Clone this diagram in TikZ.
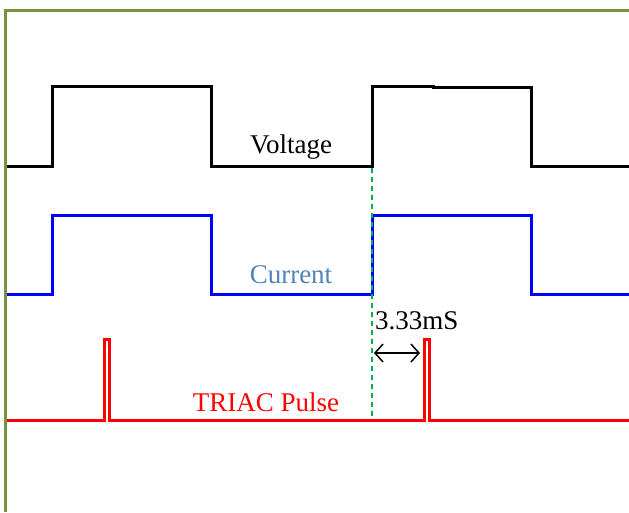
\documentclass[tikz,border=0pt]{standalone}
\usepackage{fontspec}
\setmainfont{Liberation Serif}
\usetikzlibrary{arrows.meta}
\definecolor{frameg}{HTML}{77933C}
\definecolor{dashg}{HTML}{00B050}
\definecolor{curlbl}{HTML}{4F81BD}
\tikzset{
  wave/.style={line width=3pt, line join=miter},
  lbl/.style={font=\fontsize{27}{31}\selectfont, inner sep=0pt},
}
\begin{document}
\begin{tikzpicture}[x=1pt,y=-1pt]
\useasboundingbox (0,0) rectangle (629,512);
% frame
\draw[frameg, line width=3pt] (5,512) -- (5,10) -- (629,10);
% voltage
\draw[wave, black] (7,166.5) -- (52,166.5) -- (52,86.5) -- (211,86.5) -- (211,166.5) -- (372,166.5) -- (372,86.5) -- (433,86.5) -- (433,87.5) -- (531.5,87.5) -- (531.5,166.5) -- (629,166.5);
% current
\draw[wave, blue] (7,294) -- (52,294) -- (52,215) -- (211,215) -- (211,294) -- (372,294) -- (372,215) -- (531.5,215) -- (531.5,294) -- (629,294);
% triac pulse
\draw[wave, red] (7,420) -- (104.5,420) -- (104.5,339.5) -- (109.5,339.5) -- (109.5,420) -- (424,420) -- (424,339.5) -- (429,339.5) -- (429,420) -- (629,420);
% dashed marker
\coordinate (dtop) at (372,168);
\coordinate (dbot) at (372,418);
\draw[dashg, line width=1.3pt, dash pattern=on 5pt off 4pt] (dtop) -- (dbot);
% labels
\node[lbl, text=black] (volt) at (291,147) {Voltage};
\node[lbl, text=curlbl] (curr) at (291,275) {Current};
\node[lbl, text=red] (triac) at (266,402) {TRIAC Pulse};
\node[lbl, anchor=west] (tms) at (375,321) {3.33mS};
% arrow
\coordinate (al) at (374,353);
\coordinate (ar) at (420,353);
\draw[line width=1.5pt, {Straight Barb[length=8pt,width=18pt]}-{Straight Barb[length=8pt,width=18pt]}] (al) -- (ar);
\end{tikzpicture}
\end{document}
